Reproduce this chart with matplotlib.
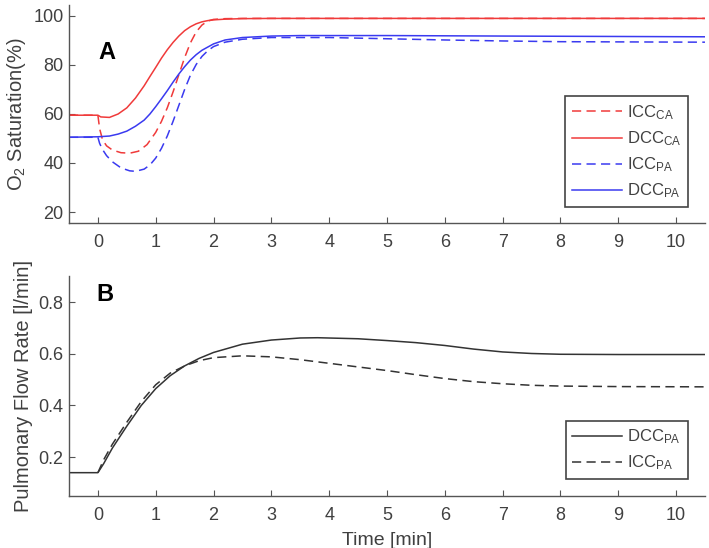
import matplotlib
matplotlib.use('Agg')
import matplotlib.pyplot as plt

plt.rcParams['font.family'] = ['Liberation Sans', 'DejaVu Sans']
plt.rcParams['mathtext.default'] = 'regular'

# Panel A: O2 saturation (%)
t_dcc_ca = [-0.5, 0, 0.05, 0.2, 0.35, 0.5, 0.65, 0.8, 0.9, 1.0, 1.1, 1.2, 1.3, 1.4, 1.5,
            1.6, 1.7, 1.8, 1.9, 2.0, 2.2, 2.5, 3, 4, 6, 10.5]
dcc_ca = [59.5, 59.5, 58.8, 58.6, 60, 62.5, 66.5, 71.5, 75.3, 79, 82.8, 86.2, 89.2, 91.8, 94,
          95.6, 96.8, 97.6, 98.1, 98.4, 98.7, 98.9, 99, 99, 99, 99]

t_icc_ca = [-0.5, 0, 0.03, 0.08, 0.15, 0.25, 0.4, 0.55, 0.7, 0.85, 1.0, 1.1, 1.2, 1.3, 1.4,
            1.5, 1.6, 1.7, 1.8, 1.9, 2.0, 2.2, 2.5, 3, 10.5]
icc_ca = [59.5, 59.5, 54, 49.5, 47, 45.3, 44.2, 44, 44.8, 47.5, 52.5, 57, 62.5, 69, 76,
          83, 89, 93.5, 96.3, 97.9, 98.6, 98.9, 99, 99, 99]

t_dcc_pa = [-0.5, 0, 0.2, 0.35, 0.5, 0.65, 0.8, 0.9, 1.0, 1.1, 1.2, 1.3, 1.4, 1.5, 1.6,
            1.7, 1.8, 2.0, 2.2, 2.5, 3, 3.5, 4, 5, 7, 10.5]
dcc_pa = [50.5, 50.7, 51, 51.8, 53, 55, 57.5, 60, 63, 66.2, 69.5, 73, 76.3, 79.3, 82,
          84.2, 86, 88.6, 90.2, 91.2, 91.8, 92, 92, 92, 91.8, 91.5]

t_icc_pa = [-0.5, 0, 0.03, 0.08, 0.15, 0.25, 0.4, 0.55, 0.65, 0.8, 0.9, 1.0, 1.1, 1.2, 1.3,
            1.4, 1.5, 1.6, 1.7, 1.8, 1.9, 2.0, 2.2, 2.5, 3, 4, 5, 6, 7, 8, 10.5]
icc_pa = [50.5, 50.5, 48, 45.5, 43, 40.5, 38, 36.8, 36.6, 37.5, 39.2, 42, 46, 51, 57,
          63.5, 70, 75.8, 80.2, 83.5, 85.8, 87.5, 89.3, 90.5, 91.2, 91.2, 90.7, 90.2, 89.8, 89.5, 89.3]

# Panel B: pulmonary flow rate (l/min)
t_flow_dcc = [-0.5, 0, 0.1, 0.25, 0.5, 0.75, 1.0, 1.25, 1.5, 1.75, 2.0, 2.5, 3.0, 3.5, 3.8,
              4.5, 5, 5.5, 6, 6.5, 7, 7.5, 8, 9, 10.5]
flow_dcc = [0.14, 0.14, 0.175, 0.235, 0.32, 0.40, 0.465, 0.515, 0.553, 0.582, 0.605, 0.637, 0.653, 0.661, 0.662,
            0.658, 0.651, 0.643, 0.632, 0.618, 0.607, 0.601, 0.598, 0.597, 0.597]

t_flow_icc = [0, 0.1, 0.25, 0.5, 0.75, 1.0, 1.25, 1.5, 1.75, 2.0, 2.5, 3, 3.5, 4, 4.5,
              5, 5.5, 6, 6.5, 7, 7.5, 8, 9, 10.5]
flow_icc = [0.14, 0.19, 0.25, 0.335, 0.415, 0.48, 0.525, 0.553, 0.573, 0.585, 0.592, 0.588, 0.577, 0.563, 0.549,
            0.535, 0.519, 0.504, 0.492, 0.484, 0.478, 0.475, 0.473, 0.472]

x_ticks = list(range(0, 11))

RED = '#f03a3a'
BLUE = '#3a3af0'
DARK = '#333333'
GRAY = '#404040'
dash = (0, (6, 3.5))

fig = plt.figure(figsize=(7.09, 5.48), dpi=100)
ax1 = fig.add_axes([0.0973, 0.593, 0.897, 0.398])
ax2 = fig.add_axes([0.0973, 0.095, 0.897, 0.401])

ax1.plot(t_icc_ca, icc_ca, color=RED, lw=1.1, linestyle=dash, label='ICC$_{CA}$')
ax1.plot(t_dcc_ca, dcc_ca, color=RED, lw=1.1, label='DCC$_{CA}$')
ax1.plot(t_icc_pa, icc_pa, color=BLUE, lw=1.1, linestyle=dash, label='ICC$_{PA}$')
ax1.plot(t_dcc_pa, dcc_pa, color=BLUE, lw=1.1, label='DCC$_{PA}$')
ax1.set_ylim(15.5, 104.5)
ax1.set_yticks([20, 40, 60, 80, 100])
ax1.set_ylabel('O$_2$ Saturation(%)', fontsize=14.5, color=GRAY, labelpad=4)
ax1.text(0.06, 0.784, 'A', transform=ax1.transAxes, fontsize=17, fontweight='bold',
         ha='center', va='center')

ax2.plot(t_flow_dcc, flow_dcc, color=DARK, lw=1.1, label='DCC$_{PA}$')
ax2.plot(t_flow_icc, flow_icc, color=DARK, lw=1.1, linestyle=dash, label='ICC$_{PA}$')
ax2.set_ylim(0.05, 0.9)
ax2.set_yticks([0.2, 0.4, 0.6, 0.8])
ax2.set_ylabel('Pulmonary Flow Rate [l/min]', fontsize=14.5, color=GRAY, labelpad=4)
ax2.set_xlabel('Time [min]', fontsize=14, color=GRAY, labelpad=6)
ax2.text(0.057, 0.916, 'B', transform=ax2.transAxes, fontsize=17, fontweight='bold',
         ha='center', va='center')

for ax in (ax1, ax2):
    ax.set_xlim(-0.5, 10.5)
    ax.set_xticks(x_ticks)
    ax.spines['top'].set_visible(False)
    ax.spines['right'].set_visible(False)
    for s in ('left', 'bottom'):
        ax.spines[s].set_color('#555555')
        ax.spines[s].set_linewidth(1.0)
    ax.tick_params(axis='x', direction='in', length=4, color='#555555', labelcolor=GRAY,
                   labelsize=13, pad=8)
    ax.tick_params(axis='y', direction='in', length=4, color='#555555', labelcolor=GRAY,
                   labelsize=13, pad=4)
    leg = ax.legend(loc='lower right', bbox_to_anchor=(0.973, 0.073 if ax is ax1 else 0.077),
                    fontsize=12, handlelength=3.0, handletextpad=0.3, labelspacing=0.45,
                    fancybox=False, framealpha=1, borderpad=0.4, borderaxespad=0)
    leg.get_frame().set_edgecolor('#444444')
    leg.get_frame().set_linewidth(1.2)
    for txt in leg.get_texts():
        txt.set_color(GRAY)

fig.savefig('out.png', dpi=100)
